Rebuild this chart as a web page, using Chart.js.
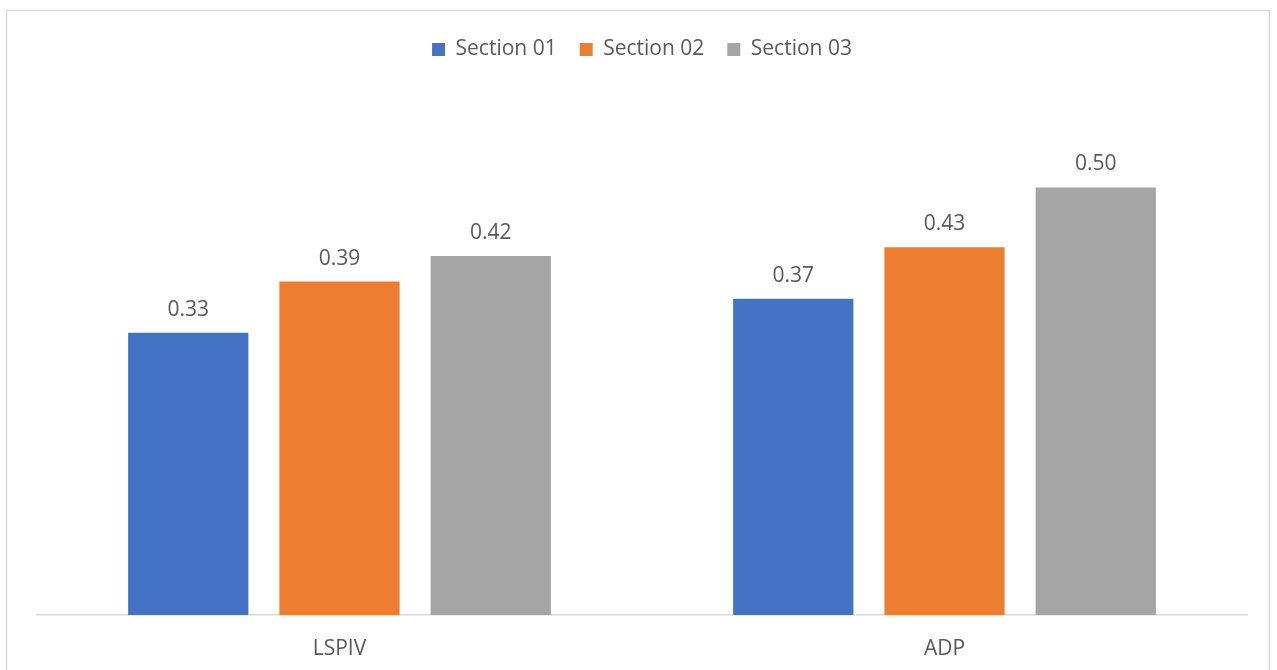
<!DOCTYPE html>
<html>
<head>
<meta charset="utf-8">
<script src="https://cdn.jsdelivr.net/npm/chart.js@4/dist/chart.umd.min.js"></script>
<style>
  html, body { margin: 0; padding: 0; background: #ffffff; }
  #wrap { position: relative; width: 1277px; height: 670px; }
</style>
</head>
<body>
<div id="wrap"><canvas id="chart" width="1277" height="670"></canvas></div>
<script>
// Measurement methods and the three river sections
const categories = ['LSPIV', 'ADP'];
const seriesNames = ['Section 01', 'Section 02', 'Section 03'];
const section01 = [0.33, 0.37];
const section02 = [0.39, 0.43];
const section03 = [0.42, 0.50];
const seriesColors = ['#4472C4', '#ED7D31', '#A5A5A5'];

const textColor = '#595959';
const fontFamily = '"Open Sans", "Liberation Sans", sans-serif';

// Outer frame around the whole chart
const framePlugin = {
  id: 'frame',
  beforeDraw(chart) {
    const ctx = chart.ctx;
    ctx.save();
    ctx.fillStyle = '#ffffff';
    ctx.fillRect(0, 0, chart.width, chart.height);
    ctx.strokeStyle = '#d9d9d9';
    ctx.lineWidth = 1.5;
    ctx.strokeRect(6.5, 10.5, 1263, 700);
    ctx.restore();
  }
};

// Value labels above each bar
const valueLabels = {
  id: 'valueLabels',
  afterDatasetsDraw(chart) {
    const ctx = chart.ctx;
    ctx.save();
    ctx.fillStyle = textColor;
    ctx.font = '21px ' + fontFamily;
    ctx.textAlign = 'center';
    ctx.textBaseline = 'middle';
    chart.data.datasets.forEach((ds, i) => {
      chart.getDatasetMeta(i).data.forEach((bar, j) => {
        ctx.fillText(ds.data[j].toFixed(2), bar.x, bar.y - 23);
      });
    });
    ctx.restore();
  }
};

const seriesData = [section01, section02, section03];

new Chart(document.getElementById('chart'), {
  type: 'bar',
  data: {
    labels: categories,
    datasets: seriesNames.map((name, i) => ({
      label: name,
      data: seriesData[i],
      backgroundColor: seriesColors[i],
      borderWidth: 0,
      categoryPercentage: 0.75,
      barPercentage: 0.795
    }))
  },
  options: {
    responsive: false,
    animation: false,
    layout: { padding: { left: 37, right: 30, top: 16, bottom: 12 } },
    plugins: {
      legend: {
        position: 'top',
        labels: {
          boxWidth: 13,
          boxHeight: 13,
          padding: 23,
          color: textColor,
          font: { family: fontFamily, size: 21 }
        }
      },
      tooltip: { enabled: false }
    },
    scales: {
      x: {
        grid: { display: false, drawTicks: false },
        border: { color: '#d9d9d9', width: 1.5 },
        ticks: { color: textColor, padding: 21, font: { family: fontFamily, size: 21 } },
        afterFit(scale) { scale.height = 43; }
      },
      // empty band between the legend and the plot
      gap: {
        axis: 'x',
        position: 'top',
        grid: { display: false, drawTicks: false },
        border: { display: false },
        ticks: { display: false },
        afterFit(scale) { scale.height = 32; }
      },
      y: {
        display: false,
        min: 0,
        max: 0.6
      }
    }
  },
  plugins: [framePlugin, valueLabels]
});
</script>
</body>
</html>
